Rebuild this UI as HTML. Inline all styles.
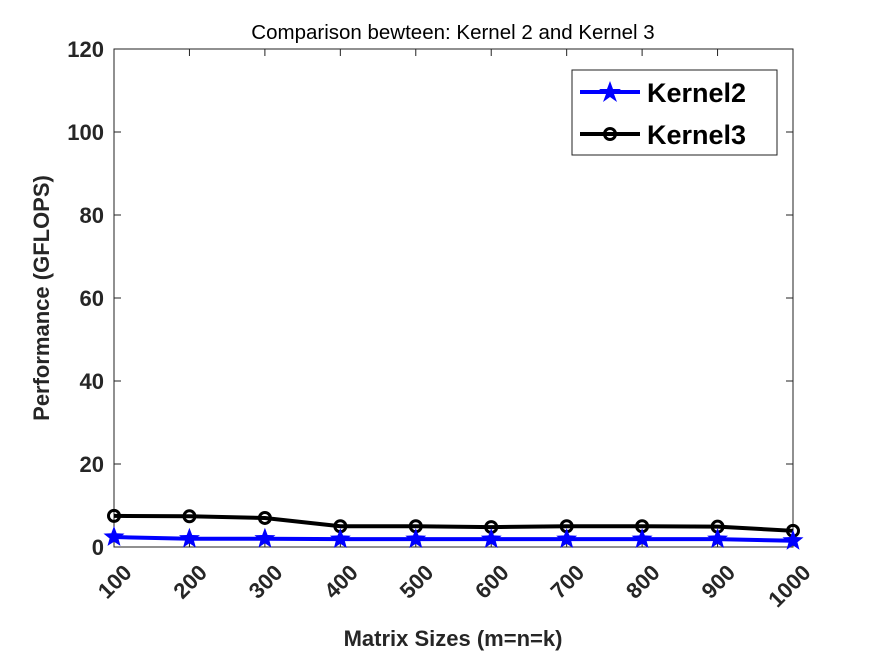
<!DOCTYPE html>
<html><head><meta charset="utf-8"><style>
html,body{margin:0;padding:0;background:#fff;}
svg{display:block;font-family:"Liberation Sans",Arial,sans-serif;}
</style></head><body>
<svg id="chart" width="875" height="656" viewBox="0 0 875 656">
<rect x="0" y="0" width="875" height="656" fill="#fff"/>
<text x="453" y="39" text-anchor="middle" font-size="20.5" fill="#000">Comparison bewteen: Kernel 2 and Kernel 3</text>
<rect x="114" y="49" width="679" height="498" fill="#fff" stroke="#222" stroke-width="1"/>
<g id="yaxis"></g>
<g id="xaxis"></g>
<g id="series"></g>
<text transform="translate(49,298) rotate(-90)" text-anchor="middle" font-size="22" font-weight="bold" fill="#262626">Performance (GFLOPS)</text>
<text x="453" y="646" text-anchor="middle" font-size="22" font-weight="bold" fill="#262626">Matrix Sizes (m=n=k)</text>
<g>
<rect x="572" y="70" width="205" height="85" fill="#fff" stroke="#222" stroke-width="1"/>
<g>
<line x1="580" y1="92" x2="640" y2="92" stroke="#0000ff" stroke-width="4"/>
<polygon points="610,81 613,89 621,89 614,94 617,102 610,97 603,102 606,94 599,89 607,89" fill="#0000ff"/>
<text x="647" y="102" font-size="27" font-weight="bold" fill="#000">Kernel2</text>
</g>
<g>
<line x1="580" y1="134" x2="640" y2="134" stroke="#000" stroke-width="4"/>
<circle cx="610" cy="134" r="5.5" fill="none" stroke="#000" stroke-width="3"/>
<text x="647" y="144" font-size="27" font-weight="bold" fill="#000">Kernel3</text>
</g>
</g>
</svg>
<script>
const categories=[100,200,300,400,500,600,700,800,900,1000];
const kernel2=[2.4,2.0,2.0,1.9,1.9,1.9,1.9,1.9,1.9,1.5];
const kernel3=[7.5,7.4,7.0,5.0,5.0,4.8,5.0,5.0,4.9,3.9];
const yTicks=[0,20,40,60,80,100,120];
const NS="http://www.w3.org/2000/svg";
const L=114,R=793,T=49,B=547;
function xs(v){return L+(v-100)/(1000-100)*(R-L);}
function ys(v){return B-v/120*(B-T);}
function mk(tag,attrs,parent){const e=document.createElementNS(NS,tag);for(const k in attrs)e.setAttribute(k,attrs[k]);parent.appendChild(e);return e;}
const ya=document.getElementById('yaxis'),xa=document.getElementById('xaxis'),sg=document.getElementById('series');
yTicks.forEach(t=>{
 const y=ys(t);
 mk('line',{x1:L,y1:y,x2:L+7,y2:y,stroke:'#222'},ya);
 mk('line',{x1:R,y1:y,x2:R-7,y2:y,stroke:'#222'},ya);
 const tx=mk('text',{x:L-10,y:y+8,'text-anchor':'end','font-size':22,'font-weight':'bold',fill:'#262626'},ya);
 tx.textContent=t;
 
 
});
categories.forEach(c=>{
 const x=xs(c);
 mk('line',{x1:x,y1:B,x2:x,y2:B-7,stroke:'#222'},xa);
 mk('line',{x1:x,y1:T,x2:x,y2:T+7,stroke:'#222'},xa);
 const tx=mk('text',{transform:`translate(${x+19},${B+27}) rotate(-45)`,'text-anchor':'end','font-size':22,'font-weight':'bold',fill:'#262626'},xa);
 tx.textContent=c;
 
 
});
function starPts(cx,cy,r){let p=[];for(let i=0;i<10;i++){const a=-Math.PI/2+i*Math.PI/5;const rr=i%2?r*0.42:r;p.push((cx+rr*Math.cos(a)).toFixed(1)+','+(cy+rr*Math.sin(a)).toFixed(1));}return p.join(' ');}
const l3=mk('polyline',{points:categories.map((c,i)=>xs(c)+','+ys(kernel3[i])).join(' '),fill:'none',stroke:'#000','stroke-width':4},sg);


const l2=mk('polyline',{points:categories.map((c,i)=>xs(c)+','+ys(kernel2[i])).join(' '),fill:'none',stroke:'#0000ff','stroke-width':4},sg);


categories.forEach((c,i)=>{
 const m=mk('circle',{cx:xs(c),cy:ys(kernel3[i]),r:5.5,fill:'none',stroke:'#000','stroke-width':3},sg);
 
 
 const s=mk('polygon',{points:starPts(xs(c),ys(kernel2[i]),11),fill:'#0000ff'},sg);
 
 
});
</script>
</body></html>
